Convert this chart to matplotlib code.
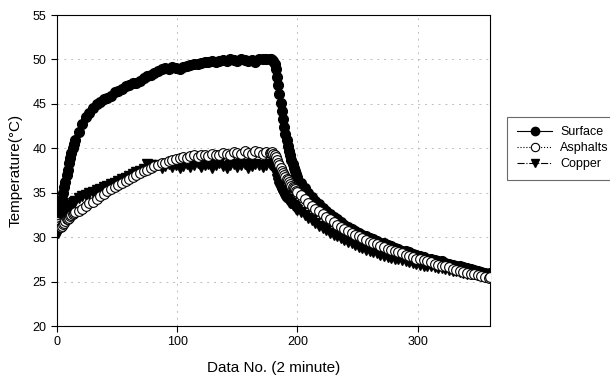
import matplotlib
matplotlib.use("Agg")
import matplotlib.pyplot as plt

plt.rcParams['font.family'] = ['Liberation Sans', 'DejaVu Sans']

# data numbers (dense where the curves are steep)
data_no = (list(range(0, 16)) + list(range(18, 178, 3)) +
           list(range(178, 201)) + list(range(203, 361, 3)) + [360])

surface = [
    32.6, 32.8, 33.3, 33.9, 34.3, 35.0, 35.6, 36.2, 37.0, 37.6, 38.3, 38.9, 39.5, 40.0, 40.5, 40.9,
    41.8, 42.7, 43.5, 44.0, 44.5, 45.0, 45.2, 45.5, 45.7, 45.9,
    46.3, 46.5, 46.7, 47.0, 47.1, 47.3, 47.3, 47.6, 47.9, 48.1,
    48.3, 48.5, 48.7, 48.9, 49.0, 48.9, 49.1, 49.0, 48.9, 49.1,
    49.3, 49.4, 49.5, 49.5, 49.6, 49.7, 49.7, 49.8, 49.7, 49.8,
    49.9, 49.8, 50.0, 49.9, 49.8, 50.0, 49.9, 49.8, 49.9, 49.7,
    50.0, 50.1, 50.1, 50.0,
    50.0, 49.9, 49.8, 49.5, 48.9, 48.0, 47.1, 46.1, 45.1, 44.2, 43.3, 42.4,
    41.6, 40.9, 40.3, 39.7, 39.2, 38.7, 38.2, 37.8, 37.4, 37.1, 36.8,
    36.1, 35.5, 35.0, 34.5, 34.1, 33.7, 33.3, 32.9, 32.6, 32.3,
    32.0, 31.7, 31.4, 31.2, 30.9, 30.7, 30.5, 30.3, 30.1, 29.9,
    29.8, 29.6, 29.4, 29.3, 29.1, 29.0, 28.8, 28.7, 28.5, 28.4,
    28.3, 28.1, 28.0, 27.9, 27.8, 27.6, 27.6, 27.4, 27.3, 27.3,
    27.1, 27.0, 26.9, 26.8, 26.7, 26.6, 26.5, 26.4, 26.3, 26.2,
    26.1, 26.0, 25.9, 26.0,
]

asphalts = [
    31.7, 31.5, 31.3, 31.2, 31.3, 31.5, 31.6, 31.8, 32.0, 32.1, 32.2, 32.4, 32.5, 32.6, 32.7, 32.8,
    33.0, 33.2, 33.5, 33.8, 34.0, 34.3, 34.6, 34.9, 35.2, 35.4,
    35.7, 35.9, 36.1, 36.3, 36.5, 36.8, 37.0, 37.2, 37.4, 37.6,
    37.8, 38.0, 38.1, 38.3, 38.4, 38.6, 38.7, 38.8, 38.9, 39.0,
    38.9, 39.1, 39.2, 39.0, 39.2, 39.3, 39.1, 39.4, 39.3, 39.2,
    39.5, 39.4, 39.3, 39.6, 39.5, 39.4, 39.7, 39.5, 39.4, 39.7,
    39.6, 39.4, 39.6, 39.5,
    39.5, 39.6, 39.4, 39.2, 39.0, 38.7, 38.4, 38.1, 37.8, 37.5, 37.2, 37.0,
    36.8, 36.6, 36.4, 36.2, 36.0, 35.8, 35.7, 35.5, 35.4, 35.2, 35.1,
    34.7, 34.3, 33.9, 33.5, 33.2, 32.9, 32.6, 32.3, 32.0, 31.7,
    31.4, 31.2, 30.9, 30.7, 30.5, 30.3, 30.1, 29.9, 29.7, 29.5,
    29.4, 29.2, 29.0, 28.9, 28.7, 28.6, 28.4, 28.3, 28.2, 28.0,
    27.9, 27.8, 27.6, 27.5, 27.4, 27.3, 27.2, 27.0, 26.9, 26.8,
    26.7, 26.6, 26.4, 26.3, 26.2, 26.1, 26.0, 25.9, 25.8, 25.7,
    25.6, 25.5, 25.4, 25.5,
]

copper = [
    30.6, 30.5, 30.8, 31.2, 31.6, 31.9, 32.2, 32.5, 32.8, 33.0, 33.2, 33.4, 33.6, 33.8, 34.0, 34.1,
    34.4, 34.6, 34.8, 35.0, 35.1, 35.3, 35.4, 35.6, 35.8, 36.0,
    36.1, 36.3, 36.5, 36.7, 36.9, 37.1, 37.3, 37.5, 37.7, 38.2,
    38.1, 37.9, 38.1, 37.8, 38.0, 38.2, 37.9, 38.1, 37.8, 38.0,
    38.2, 37.9, 38.1, 38.3, 37.9, 38.1, 38.2, 37.8, 38.1, 38.3,
    38.0, 37.8, 38.1, 38.2, 37.9, 38.1, 38.2, 37.8, 38.0, 38.2,
    38.1, 37.9, 38.1, 38.2,
    38.1, 38.2, 38.0, 37.6, 37.1, 36.6, 36.1, 35.7, 35.3, 35.0, 34.8, 34.6,
    34.5, 34.3, 34.2, 34.0, 33.9, 33.8, 33.6, 33.5, 33.4, 33.2, 33.1,
    32.8, 32.5, 32.2, 31.9, 31.6, 31.3, 31.0, 30.8, 30.5, 30.3,
    30.1, 29.9, 29.7, 29.5, 29.3, 29.1, 28.9, 28.8, 28.6, 28.5,
    28.3, 28.2, 28.0, 27.9, 27.8, 27.7, 27.6, 27.5, 27.4, 27.3,
    27.2, 27.1, 27.0, 26.9, 26.8, 26.8, 26.7, 26.6, 26.5, 26.5,
    26.4, 26.3, 26.2, 26.2, 26.1, 26.0, 25.9, 25.9, 25.8, 25.7,
    25.7, 25.6, 25.5, 25.6,
]

fig = plt.figure(figsize=(6.1, 3.8), dpi=100)
ax = fig.add_axes([0.0934, 0.142, 0.7096, 0.8185])

l1, = ax.plot(data_no, surface, color='black', lw=0.8, ls='-', marker='o',
              ms=7, mfc='black', mec='black', label='Surface', zorder=3)
l3, = ax.plot(data_no, copper, color='black', lw=0.8, ls='-.', marker='v',
              ms=7.5, mfc='black', mec='black', label='Copper', zorder=4)
l2, = ax.plot(data_no, asphalts, color='black', lw=0.8, ls=':', marker='o',
              ms=7, mfc='white', mec='black', mew=0.8, label='Asphalts', zorder=5)

ax.set_xlim(0, 360)
ax.set_ylim(20, 55)
ax.set_xticks([0, 100, 200, 300])
ax.set_yticks(range(20, 56, 5))
ax.tick_params(direction='out', length=4, width=0.8, labelsize=9, top=False, right=False)
ax.grid(True, color='#bdbdbd', lw=0.7, ls=(0, (2, 5)))
ax.set_axisbelow(True)
for s in ax.spines.values():
    s.set_linewidth(0.8)

ax.set_xlabel('Data No. (2 minute)', fontsize=11, labelpad=9)
ax.set_ylabel('Temperature(°C)', fontsize=11, labelpad=7)

leg = fig.legend([l1, l2, l3], ['Surface', 'Asphalts', 'Copper'],
                 loc='lower left', bbox_to_anchor=(507 / 610, 1 - 180 / 380),
                 fontsize=9, frameon=True, fancybox=False, numpoints=1,
                 handlelength=2.8, handletextpad=0.65, labelspacing=0.3,
                 borderpad=0.8, borderaxespad=0)
leg.get_frame().set_edgecolor('#444444')
leg.get_frame().set_linewidth(0.8)
for h in leg.legend_handles:
    h.set_markersize(6)

fig.savefig('out.png', dpi=100)
